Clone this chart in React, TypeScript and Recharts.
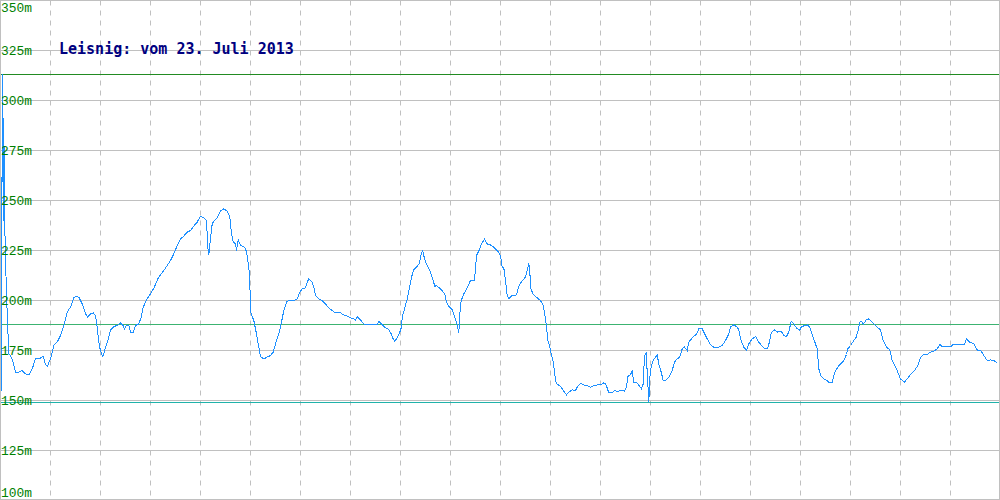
import React from 'react';
import { LineChart, Line, XAxis, YAxis, CartesianGrid, ReferenceLine } from 'recharts';

const chartTitle = 'Leisnig: vom 23. Juli 2013';
const yTicks = [100, 125, 150, 175, 200, 225, 250, 275, 300, 325, 350];
const xTicks = [0, 50, 100, 150, 200, 250, 300, 350, 400, 450, 500, 550, 600, 650, 700, 750, 800, 850, 900, 950, 1000];

const maxElevation = 313;
const avgElevation = 188;
const minElevation = 149;

const distance = [
  0, 2, 2.7, 3.3, 4, 5, 6.7, 8.3, 10, 12.7,
  15, 18.3, 21.7, 25, 28.3, 31.7, 35, 40, 42.7, 45,
  46.7, 50, 53.3, 56.7, 60, 63.3, 66.7, 70, 73.3, 75,
  78.3, 81.7, 85, 87.3, 90, 92.7, 95, 96.7, 98.3, 100,
  102.3, 105, 107.3, 110, 113.3, 116.7, 120, 122.7, 124, 126,
  128.3, 130, 132.7, 135, 138.3, 140.7, 142.7, 146.7, 150, 153.3,
  155.3, 157.3, 160, 163.3, 166.7, 170, 173.3, 176.7, 180, 183.3,
  186.7, 190, 193.3, 196.7, 200,
  203.3, 206, 207.3, 208.3, 210, 211.7, 213.3, 216.7, 220, 223.3,
  226.7, 229.3, 231, 232.7, 235, 236, 237.7, 240, 244, 246,
  248.3, 249.3, 250, 253.3, 256, 258.3, 260, 263.3, 266.7, 270,
  272.7, 275, 278.3, 281, 283.3, 286, 288.3, 293.3, 296.7, 299.3,
  301.7, 305, 306.7, 308.3, 311.7, 313.3, 315, 318.3, 321.7, 325,
  328.3, 331.7, 335, 340, 343.3, 346.7, 350, 353.3, 355, 356.7,
  360, 363.3, 366.7, 376.7, 378.3, 381.7, 385, 388.3, 390.7, 392.7,
  394.3, 396.7, 399.3, 401, 401.7, 404, 406.7, 409.3, 411, 413.3,
  416.7, 419, 420.7, 422.3, 424, 426.7, 429.3, 432.3, 434.3, 436,
  440, 444.3, 446, 448.3, 451.7, 454.3, 456.7, 458.3, 459.3, 460.7,
  463.3, 466.7, 470, 474, 476, 478.3, 480.7, 484, 486.7, 490,
  493.3, 497.7, 500, 501.7, 503.3, 505, 506.7, 508.3, 511.7, 516,
  518.3, 520.7, 525, 526.7, 528.3, 529.3, 530, 532.3, 536.7, 540,
  542.7, 544.3, 546, 547.3, 549.3,
  550.7, 552.7, 554, 555, 556.7, 559.3, 561.7, 563.3, 566, 568.3,
  571.7, 575, 576.7, 580, 583.3, 586.7, 590, 593.3, 596.7, 600,
  602.7, 605, 606.7, 608.3, 611.7, 614, 616.7, 620, 624, 626,
  627.3, 630, 631.7, 633.3, 636.7, 639.3, 641, 642.7, 644, 646,
  646.7, 647.7, 648.3, 649.3, 650.7, 652.7, 655, 656.7, 658.3, 660.7,
  662.7, 665, 668.3, 671.7, 674, 676.7, 679.3, 681.7, 684, 686.7,
  688.3, 691.7, 695, 696.7, 698.3, 701.7, 703.3, 706.7, 710, 713.3,
  718.3, 721.7, 725, 728.3, 730, 733.3, 736.7, 738.3, 740, 743.3,
  746, 748.3, 751.7, 755, 758.3, 761.7, 765, 767.3, 769.3, 770.7,
  774, 776.7, 779.3,
  780.7, 783.3, 786, 788.3, 790.7, 793.3, 796, 799, 800.7, 804,
  806.7, 809.3, 811.7, 815, 816.7, 818.3, 820.7, 823.3, 826.7, 828.3,
  831.7, 834, 837.3, 840, 843.3, 846, 847.3, 850, 853.3, 855.7,
  857.7, 859.3, 861, 862.7, 866, 867.7, 870, 873.3, 876.7, 880,
  882.7, 886, 889.3, 891.7, 895, 897.3, 900, 904, 906.7, 910,
  914, 917.3, 920, 922.7, 926.7, 930, 933.3, 936.7, 939.3, 941.7,
  946.7, 950.7, 952.7, 956.7, 964, 966, 969.3, 973.3, 976.7, 980.7,
  983.3, 986.7, 990, 993.3, 996.7,
];

const elevation = [
  100, 313, 240, 291, 245, 220, 193.3, 173.3, 172.5, 169.2,
  164.2, 164.2, 165, 163.3, 162.8, 165.8, 170.8, 171.2, 172, 168,
  167, 170.8, 177.5, 179.2, 182.5, 187.5, 194.2, 196.7, 201.3, 202,
  201.7, 198.3, 193.3, 191.7, 193.3, 193.8, 192.5, 186.7, 179.2, 174.7,
  172, 176.3, 180, 185.3, 187, 187.5, 188.7, 187.5, 185.8, 187.5,
  187.5, 184.2, 184.2, 187.5, 188.3, 191.7, 196.7, 200.8, 203.3, 206.2,
  208.3, 210.8, 212.8, 215, 217.5, 220, 223.3, 227.5, 230.8, 232.2,
  234.2, 235, 237.2, 239.2, 242.2,
  241.3, 240, 226.7, 223, 230.8, 238.3, 239.7, 241.3, 244.7, 245.8,
  244.7, 241.7, 233.3, 229.2, 228.3, 225, 230.3, 227.5, 226.7, 224.5,
  216.7, 210, 194.2, 190, 183.3, 176.7, 172, 170.8, 171.7, 172.5,
  174.2, 178.3, 183.3, 189.2, 195, 199.2, 200, 200, 200.8, 204.2,
  205.8, 206.3, 209.2, 210.8, 209.2, 206.7, 202.5, 200.8, 200, 198.3,
  196.3, 195, 193.8, 193.8, 192.8, 192.2, 191.3, 190.8, 190, 192,
  190.3, 188.3, 187.8, 187.8, 189.7, 188, 186.3, 185.5, 183.3, 180.8,
  179.7, 181.3, 184.2, 186.7, 191.7, 195.8, 200.8, 207, 211.7, 215.3,
  217, 218.7, 223.3, 225, 220.8, 217.5, 215, 210.8, 207, 207.5,
  205.8, 203.3, 199.2, 197, 195.3, 191.7, 188, 183.7, 193.3, 200,
  203.3, 206.3, 210, 210, 222.5, 224.7, 228, 230.8, 228.3, 227.8,
  226.7, 224.5, 222.5, 216.7, 216.3, 210, 202.5, 200.8, 202.5, 202.8,
  207, 209.2, 211.7, 215, 218.8, 215, 206.7, 203.3, 201.3, 200,
  197.5, 193.3, 186.7, 180, 177,
  173.3, 169.2, 164.2, 160, 158, 157.5, 155.8, 154.7, 152.8, 154.2,
  155.3, 155, 156.7, 158.7, 157.8, 157.5, 156.7, 157.5, 157.8, 157.8,
  158.8, 158.3, 156.3, 153.8, 153.8, 155, 154.5, 155, 154.7, 156.7,
  162, 163, 164.7, 159.2, 158.7, 157, 155.8, 158.3, 172.5, 173.7,
  163.3, 155, 149.2, 161.7, 166.7, 170, 171.7, 172.8, 168.3, 164.2,
  160, 160, 161.7, 165, 169.2, 170.8, 171.7, 175.8, 176.7, 175,
  179.2, 181.3, 182.8, 183.7, 185.8, 185.8, 184.2, 180.8, 177.8, 176.7,
  176.7, 177.5, 180, 183.3, 186.7, 187.8, 186.7, 185.3, 180.8, 176.7,
  175, 178.3, 180.8, 182, 179.2, 177, 175.8, 176.2, 180, 183.8,
  185.3, 184.2, 184.7,
  184.7, 182.5, 182, 184.2, 189.7, 188.3, 186.3, 185, 186.7, 187.5,
  187.8, 186.7, 182.8, 178.3, 175.8, 165.8, 162, 160.8, 160, 159.2,
  159.2, 163.7, 166.7, 168.3, 170, 173, 175.8, 177.5, 180, 181.7,
  185, 189.2, 189.7, 188, 190.5, 190.8, 190, 188.3, 186.7, 185.3,
  180, 176.7, 175.3, 170, 166.7, 164.2, 160.8, 159.2, 160.8, 163,
  165, 167.5, 171.3, 173, 173, 174.2, 174.7, 175.8, 178, 177,
  177, 177, 178, 177.8, 178, 180.8, 179.2, 178.3, 175.3, 174.7,
  172.5, 170, 170.3, 170, 168.7,
];

const data = distance.map((d, i) => ({ d, e: elevation[i] }));

const YTick = (props: any) => {
  const { y, payload } = props;
  const by = Math.min(Math.max(y + 4.5, 12), 497);
  return (
    <text
      x={1}
      y={by}
      fill="#008000"
      fontFamily="'Liberation Mono', 'DejaVu Sans Mono', monospace"
      fontSize={13.5}
      textLength={31}
      lengthAdjust="spacingAndGlyphs"
    >
      {`${payload.value}m`}
    </text>
  );
};

export default function App() {
  return (
    <div
      style={{
        position: 'absolute',
        left: 0,
        top: 0,
        width: 1000,
        height: 500,
        overflow: 'hidden',
        background: '#ffffff',
      }}
    >
      <LineChart
        width={1001}
        height={501}
        data={data}
        margin={{ top: 0.5, right: 0.5, bottom: 0.5, left: 0.5 }}
      >
        <XAxis dataKey="d" type="number" domain={[0, 1000]} ticks={xTicks} hide />
        <YAxis
          type="number"
          domain={[100, 350]}
          ticks={yTicks}
          interval={0}
          mirror
          axisLine={false}
          tickLine={false}
          tick={YTick}
        />
        <CartesianGrid horizontal={true} vertical={false} stroke="#c0c0c0" />
        <CartesianGrid horizontal={false} vertical={true} stroke="#c0c0c0" strokeDasharray="5 5" />
        <ReferenceLine y={maxElevation} stroke="#228b22" strokeWidth={1} />
        <ReferenceLine y={avgElevation} stroke="#3cb371" strokeWidth={1} />
        <ReferenceLine y={minElevation} stroke="#20b2aa" strokeWidth={1} />
        <Line
          type="linear"
          dataKey="e"
          stroke="#1e90ff"
          strokeWidth={1}
          dot={false}
          activeDot={false}
          shapeRendering="crispEdges"
          isAnimationActive={false}
        />
      </LineChart>
      <svg
        width={1000}
        height={500}
        style={{ position: 'absolute', left: 0, top: 0, pointerEvents: 'none' }}
      >
        <text
          x={59}
          y={54}
          fill="#000080"
          fontFamily="DejaVu Sans Mono"
          fontWeight="bold"
          fontSize={15}
        >
          {chartTitle}
        </text>
      </svg>
      <div
        style={{
          position: 'absolute',
          left: 0,
          top: 0,
          width: 1000,
          height: 500,
          boxSizing: 'border-box',
          border: '1px solid #c0c0c0',
          pointerEvents: 'none',
        }}
      />
    </div>
  );
}
